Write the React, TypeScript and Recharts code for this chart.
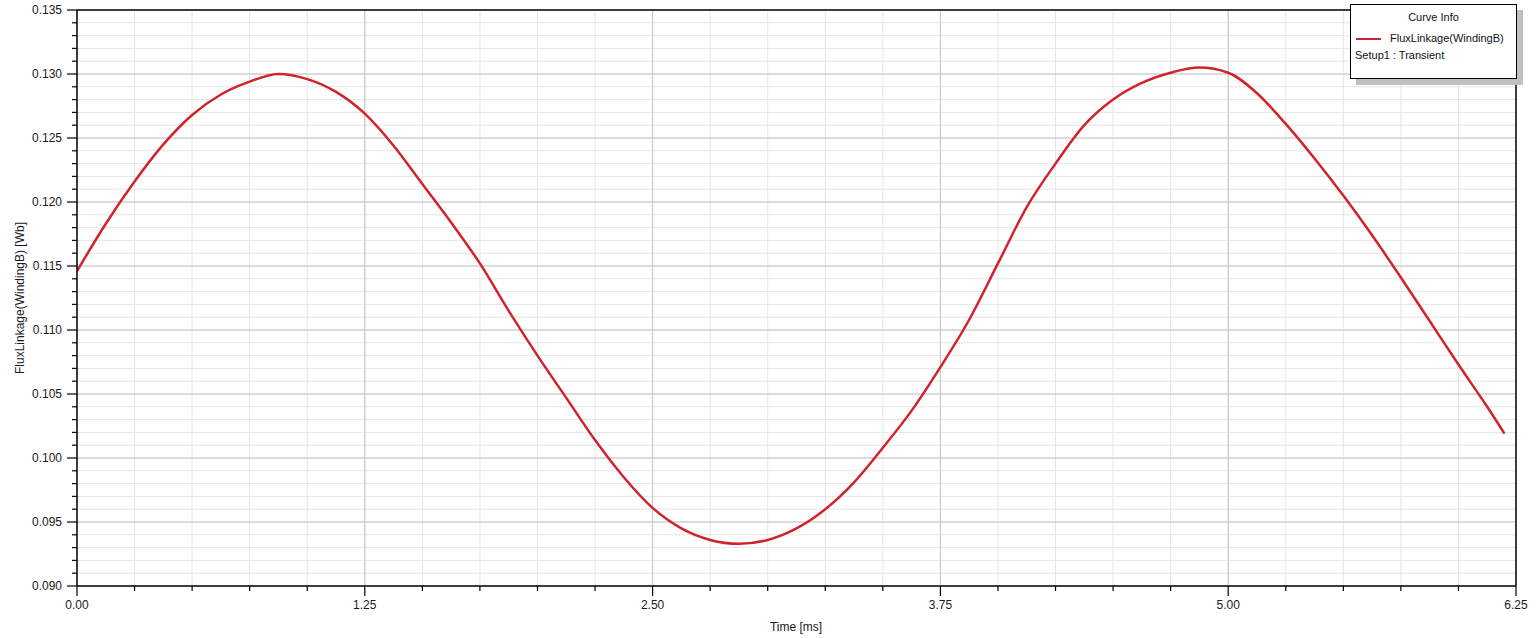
import { LineChart, Line, XAxis, YAxis, CartesianGrid, ReferenceLine } from 'recharts';

// Time axis samples (ms) and flux linkage of winding B (Wb)
const TIME_MS = [
  0, 0.125, 0.25, 0.375, 0.5, 0.625, 0.75, 0.875, 1.0, 1.125, 1.25, 1.375, 1.5, 1.625,
  1.75, 1.875, 2.0, 2.125, 2.25, 2.375, 2.5, 2.625, 2.75, 2.875, 3.0, 3.125, 3.25, 3.375,
  3.5, 3.625, 3.75, 3.875, 4.0, 4.125, 4.25, 4.375, 4.5, 4.625, 4.75, 4.875, 5.0, 5.125,
  5.25, 5.375, 5.5, 5.625, 5.75, 5.875, 6.0, 6.125, 6.2,
];
const FLUX_WB = [
  0.1146, 0.1183, 0.1216, 0.1245, 0.1268, 0.1284, 0.1294, 0.1300, 0.1296, 0.1286, 0.1269, 0.1244, 0.1214, 0.1184,
  0.1152, 0.1115, 0.1080, 0.1047, 0.1014, 0.0985, 0.0961, 0.0945, 0.0936, 0.0933, 0.0936, 0.0945, 0.0960, 0.0981,
  0.1008, 0.1037, 0.1071, 0.1108, 0.1152, 0.1196, 0.1230, 0.1260, 0.1280, 0.1293, 0.1301, 0.1305, 0.1301, 0.1285,
  0.1261, 0.1234, 0.1205, 0.1174, 0.1141, 0.1107, 0.1073, 0.1040, 0.1019,
];

const X_MAJOR = [0, 1.25, 2.5, 3.75, 5, 6.25];
const Y_MAJOR = [0.09, 0.095, 0.1, 0.105, 0.11, 0.115, 0.12, 0.125, 0.13, 0.135];

// minor ticks: 0.25 ms and 0.001 Wb
const X_TICKS = Array.from({ length: 26 }, (_, i) => i * 0.25);
const Y_TICKS = Array.from({ length: 46 }, (_, i) => (90 + i) / 1000);

const data = TIME_MS.map((t, i) => ({ t, flux: FLUX_WB[i] }));

const FONT = '"Liberation Sans", Arial, sans-serif';
const RED = '#D1232C';

const isMajorX = (v: number) => X_MAJOR.some(m => Math.abs(m - v) < 1e-6);
const isMajorY = (v: number) => Y_MAJOR.some(m => Math.abs(m - v) < 1e-7);

const XTick = ({ x, y, payload }: any) => {
  const major = isMajorX(payload.value);
  return (
    <g>
      <line x1={x} x2={x} y1={y} y2={y + (major ? 10 : 5)} stroke="#000" strokeWidth={1.2} />
      {major && (
        <text x={x} y={y + 23} textAnchor="middle" fontSize={12} fontFamily={FONT} fill="#1a1a1a">
          {payload.value.toFixed(2)}
        </text>
      )}
    </g>
  );
};

const YTick = ({ x, y, payload }: any) => {
  const major = isMajorY(payload.value);
  return (
    <g>
      <line x1={x - (major ? 10 : 5)} x2={x} y1={y} y2={y} stroke="#000" strokeWidth={1.2} />
      {major && (
        <text x={x - 15} y={y + 4} textAnchor="end" fontSize={12} fontFamily={FONT} fill="#1a1a1a">
          {payload.value.toFixed(3)}
        </text>
      )}
    </g>
  );
};

export default function App() {
  return (
    <div style={{ position: 'absolute', left: 0, top: 0, width: 1539, height: 638, background: '#fff', fontFamily: FONT }}>
      <LineChart width={1539} height={638} data={data} margin={{ top: 10, right: 23, bottom: 0, left: 0 }}>
        <CartesianGrid stroke="#e6e6e6" strokeWidth={1} />
        <XAxis
          dataKey="t"
          type="number"
          domain={[0, 6.25]}
          ticks={X_TICKS}
          interval={0}
          height={52}
          tickSize={0}
          tickMargin={0}
          tickLine={false}
          tick={XTick}
          axisLine={{ stroke: '#000', strokeWidth: 1.5 }}
          allowDataOverflow
        />
        <YAxis
          type="number"
          domain={[0.09, 0.135]}
          ticks={Y_TICKS}
          interval={0}
          width={77}
          tickSize={0}
          tickMargin={0}
          tickLine={false}
          tick={YTick}
          axisLine={{ stroke: '#000', strokeWidth: 1.5 }}
          allowDataOverflow
        />
        {Y_MAJOR.slice(1, -1).map(v => (
          <ReferenceLine key={`y${v}`} y={v} stroke="#c4c4c4" strokeWidth={1} />
        ))}
        {X_MAJOR.slice(1, -1).map(v => (
          <ReferenceLine key={`x${v}`} x={v} stroke="#c4c4c4" strokeWidth={1} />
        ))}
        <ReferenceLine y={0.135} stroke="#000" strokeWidth={1.5} />
        <ReferenceLine x={6.25} stroke="#000" strokeWidth={1.5} />
        <Line
          type="monotone"
          dataKey="flux"
          stroke={RED}
          strokeWidth={2.5}
          dot={false}
          isAnimationActive={false}
        />
      </LineChart>

      {/* axis titles */}
      <div
        style={{
          position: 'absolute', left: 20, top: 298, fontSize: 12, color: '#1a1a1a',
          transform: 'translate(-50%, -50%) rotate(-90deg)', whiteSpace: 'nowrap',
        }}
      >
        FluxLinkage(WindingB) [Wb]
      </div>
      <div
        style={{
          position: 'absolute', left: 796, top: 627, fontSize: 12, color: '#1a1a1a',
          transform: 'translate(-50%, -50%)', whiteSpace: 'nowrap',
        }}
      >
        Time [ms]
      </div>

      {/* curve info box */}
      <div
        style={{
          position: 'absolute', left: 1350, top: 4, width: 165, height: 73,
          border: '1px solid #000', background: '#fff', boxShadow: '6px 6px 0 #c0c0c0',
          fontSize: 11, color: '#111',
        }}
      >
        <div style={{ position: 'absolute', left: 0, right: 0, top: 6, textAlign: 'center' }}>Curve Info</div>
        <div style={{ position: 'absolute', left: 5, top: 33, width: 25, height: 2, background: RED }} />
        <div style={{ position: 'absolute', left: 39, top: 27, whiteSpace: 'nowrap' }}>FluxLinkage(WindingB)</div>
        <div style={{ position: 'absolute', left: 4, top: 44, whiteSpace: 'nowrap' }}>Setup1 : Transient</div>
      </div>
    </div>
  );
}
